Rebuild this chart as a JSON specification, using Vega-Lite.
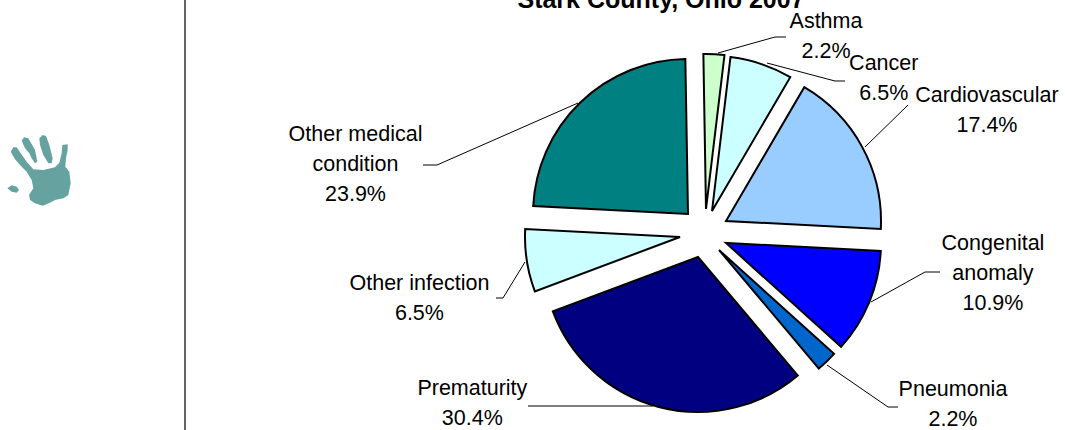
{
"$schema":"https://vega.github.io/schema/vega-lite/v6.json",
"width":1065,"height":430,"padding":0,"autosize":{"type":"none"},"background":"white",
"config":{"view":{"stroke":null}},
"datasets":{
"slices":[
{"i":1,"cause":"Asthma","n":1,"label":"Asthma\n2.2%"},
{"i":2,"cause":"Cancer","n":3,"label":"Cancer\n6.5%"},
{"i":3,"cause":"Cardiovascular","n":8,"label":"Cardiovascular\n17.4%"},
{"i":4,"cause":"Congenital anomaly","n":5,"label":"Congenital\nanomaly\n10.9%"},
{"i":5,"cause":"Pneumonia","n":1,"label":"Pneumonia\n2.2%"},
{"i":6,"cause":"Prematurity","n":14,"label":"Prematurity\n30.4%"},
{"i":7,"cause":"Other infection","n":3,"label":"Other infection\n6.5%"},
{"i":8,"cause":"Other medical condition","n":11,"label":"Other medical\ncondition\n23.9%"}
],
"leaders":[
{"cause":"Asthma","s":1,"px":718,"py":53},{"cause":"Asthma","s":2,"px":775,"py":37},{"cause":"Asthma","s":3,"px":786,"py":37},
{"cause":"Cancer","s":1,"px":767,"py":63},{"cause":"Cancer","s":2,"px":835,"py":81},{"cause":"Cancer","s":3,"px":845,"py":81},
{"cause":"Cardiovascular","s":1,"px":865,"py":147},{"cause":"Cardiovascular","s":2,"px":908,"py":105},
{"cause":"Congenital anomaly","s":1,"px":871,"py":302},{"cause":"Congenital anomaly","s":2,"px":925,"py":272},{"cause":"Congenital anomaly","s":3,"px":940,"py":272},
{"cause":"Pneumonia","s":1,"px":827,"py":365},{"cause":"Pneumonia","s":2,"px":888,"py":407},{"cause":"Pneumonia","s":3,"px":898,"py":407},
{"cause":"Prematurity","s":1,"px":528,"py":406},{"cause":"Prematurity","s":2,"px":653,"py":406},
{"cause":"Other infection","s":1,"px":525,"py":262},{"cause":"Other infection","s":2,"px":503,"py":298},{"cause":"Other infection","s":3,"px":496,"py":298},
{"cause":"Other medical condition","s":1,"px":578,"py":103},{"cause":"Other medical condition","s":2,"px":437,"py":165},{"cause":"Other medical condition","s":3,"px":423,"py":165}
],
"frame":[{"name":"divider"}],
"logo":[{"name":"hand","px":37,"py":170}],
"heading":[{"text":"Stark County, Ohio 2007","px":661,"py":8}]
},
"layer":[
{"data":{"name":"frame"},"mark":{"type":"rule","color":"#333333","strokeWidth":1.5},
 "encoding":{"x":{"datum":185,"type":"quantitative","scale":{"domain":[0,1065],"range":[0,1065],"nice":false,"zero":false},"axis":null}}},
{"data":{"name":"logo"},
 "mark":{"type":"point","filled":true,"opacity":1,"color":"#66A3A0","size":0.444,"stroke":null,"shape":"M-79 -55L-71 -68L-61 -68L-49 -50L-31 -25L-11 -2L19 0L54 -8L67 -22L74 -50L76 -75L92 -77L92 -60L87 -35L85 -10L97 5L101 40L94 75L79 85L54 90L39 98L17 107L-6 100L-21 90L-24 75L-11 55L-16 30L-31 5L-46 -10L-66 -32ZM-46 -88L-39 -98L-26 -95L-6 -60L-4 -50L1 -25L-6 -20L-16 -35L-23 -50L-36 -65ZM7 -95L17 -105L27 -102L37 -75L47 -35L44 -20L34 -20L19 -45L9 -75ZM-89 55L-76 46L-61 50L-54 60L-61 68L-76 65Z"},
 "encoding":{"x":{"field":"px","type":"quantitative","axis":null},"y":{"field":"py","type":"quantitative","axis":null,"scale":{"domain":[0,430],"range":[0,430],"nice":false,"zero":false}}}},
{"data":{"name":"heading"},"mark":{"type":"text","font":"Liberation Sans","fontSize":25,"fontWeight":"bold","color":"black","align":"center","baseline":"alphabetic"},
 "encoding":{"x":{"field":"px","type":"quantitative","axis":null},"y":{"field":"py","type":"quantitative","axis":null},"text":{"field":"text"}}},
{"data":{"name":"leaders"},"mark":{"type":"line","color":"black","strokeWidth":1,"interpolate":"linear"},
 "encoding":{"x":{"field":"px","type":"quantitative","axis":null},"y":{"field":"py","type":"quantitative","axis":null},"detail":{"field":"cause"},"order":{"field":"s"}}},
{"data":{"name":"slices"},
 "transform":[{"stack":"n","groupby":[],"sort":[{"field":"i","order":"ascending"}],"as":["a","b"]},{"calculate":"(datum.a+datum.b)/2","as":"mid"}],
 "layer":[
 {"encoding":{
   "x":{"datum":706,"type":"quantitative","axis":null},
   "y":{"datum":232,"type":"quantitative","axis":null},
   "theta":{"field":"a","type":"quantitative","scale":{"domain":[0,46],"range":[-0.017,6.266]}},
   "theta2":{"field":"b"},
   "color":{"field":"cause","type":"nominal","legend":null,"scale":{"domain":["Asthma","Cancer","Cardiovascular","Congenital anomaly","Pneumonia","Prematurity","Other infection","Other medical condition"],"range":["#CCFFCC","#CCFFFF","#99CCFF","#0000FF","#0066CC","#000080","#CCFFFF","#008080"]}}
  },
  "layer":[
  {"transform":[{"filter":"datum.i==1"}],"mark":{"type":"arc","radius":155,"stroke":"black","strokeWidth":2,"xOffset":0,"yOffset":-23}},
  {"transform":[{"filter":"datum.i==2"}],"mark":{"type":"arc","radius":155,"stroke":"black","strokeWidth":2,"xOffset":6,"yOffset":-21}},
  {"transform":[{"filter":"datum.i==3"}],"mark":{"type":"arc","radius":155,"stroke":"black","strokeWidth":2,"xOffset":20,"yOffset":-11}},
  {"transform":[{"filter":"datum.i==4"}],"mark":{"type":"arc","radius":155,"stroke":"black","strokeWidth":2,"xOffset":20,"yOffset":11}},
  {"transform":[{"filter":"datum.i==5"}],"mark":{"type":"arc","radius":155,"stroke":"black","strokeWidth":2,"xOffset":13,"yOffset":18}},
  {"transform":[{"filter":"datum.i==6"}],"mark":{"type":"arc","radius":155,"stroke":"black","strokeWidth":2,"xOffset":-8,"yOffset":25}},
  {"transform":[{"filter":"datum.i==7"}],"mark":{"type":"arc","radius":155,"stroke":"black","strokeWidth":2,"xOffset":-26,"yOffset":5}},
  {"transform":[{"filter":"datum.i==8"}],"mark":{"type":"arc","radius":155,"stroke":"black","strokeWidth":2,"xOffset":-18,"yOffset":-18}}
  ]},
 {"encoding":{
   "x":{"datum":706,"type":"quantitative","axis":null},
   "y":{"datum":232,"type":"quantitative","axis":null},
   "theta":{"field":"mid","type":"quantitative"},
   "text":{"field":"label"}
  },
  "layer":[
  {"transform":[{"filter":"datum.i==1"}],"mark":{"type":"text","font":"Liberation Sans","fontSize":21.5,"lineHeight":30,"lineBreak":"\n","color":"black","align":"center","baseline":"middle","radius":195,"dx":110,"dy":-15}},
  {"transform":[{"filter":"datum.i==2"}],"mark":{"type":"text","font":"Liberation Sans","fontSize":21.5,"lineHeight":30,"lineBreak":"\n","color":"black","align":"center","baseline":"middle","radius":200,"dx":114,"dy":22}},
  {"transform":[{"filter":"datum.i==3"}],"mark":{"type":"text","font":"Liberation Sans","fontSize":21.5,"lineHeight":30,"lineBreak":"\n","color":"black","align":"center","baseline":"middle","radius":250,"dx":61,"dy":-17}},
  {"transform":[{"filter":"datum.i==4"}],"mark":{"type":"text","font":"Liberation Sans","fontSize":21.5,"lineHeight":30,"lineBreak":"\n","color":"black","align":"center","baseline":"middle","radius":250,"dx":56,"dy":-84}},
  {"transform":[{"filter":"datum.i==5"}],"mark":{"type":"text","font":"Liberation Sans","fontSize":21.5,"lineHeight":30,"lineBreak":"\n","color":"black","align":"center","baseline":"middle","radius":300,"dx":38.5,"dy":-58}},
  {"transform":[{"filter":"datum.i==6"}],"mark":{"type":"text","font":"Liberation Sans","fontSize":21.5,"lineHeight":30,"lineBreak":"\n","color":"black","align":"center","baseline":"middle","radius":200,"dx":-183,"dy":-36}},
  {"transform":[{"filter":"datum.i==7"}],"mark":{"type":"text","font":"Liberation Sans","fontSize":21.5,"lineHeight":30,"lineBreak":"\n","color":"black","align":"center","baseline":"middle","radius":290,"dx":0,"dy":8}},
  {"transform":[{"filter":"datum.i==8"}],"mark":{"type":"text","font":"Liberation Sans","fontSize":21.5,"lineHeight":30,"lineBreak":"\n","color":"black","align":"center","baseline":"middle","radius":300,"dx":-142,"dy":119}}
  ]}
 ]}
]}
